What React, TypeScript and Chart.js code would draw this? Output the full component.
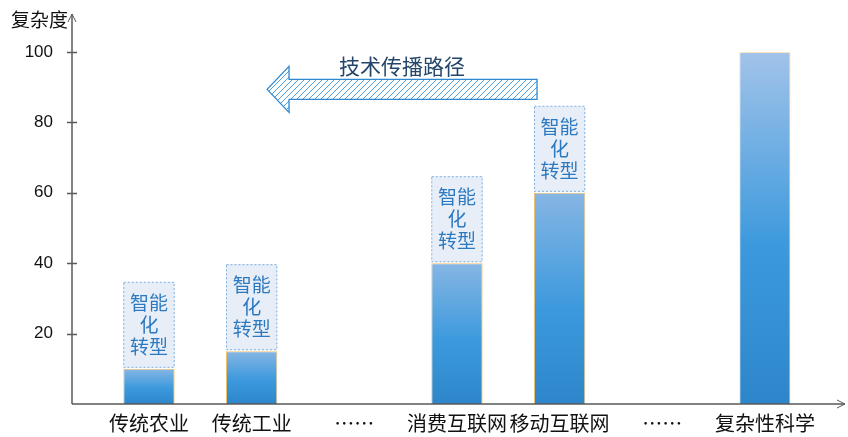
import React, { useEffect, useRef } from 'react';
import { Chart, registerables } from 'chart.js';

Chart.register(...registerables);

const categories = ['传统农业', '传统工业', '……', '消费互联网', '移动互联网', '……', '复杂性科学'];
const complexity: (number | null)[] = [10, 15, null, 40, 60, null, 100];
const hasNote = [true, true, false, true, true, false, false];
const noteLines = ['智能', '化', '转型'];
const yTicks = [20, 40, 60, 80, 100];
const arrowLabel = '技术传播路径';
const yTitle = '复杂度';

const FONT = "'Liberation Sans', 'Noto Sans CJK SC', sans-serif";
const CJK = "'Noto Sans CJK SC', sans-serif";
const AXIS = '#595959';

const makeHatch = (ctx: CanvasRenderingContext2D) => {
  const c = document.createElement('canvas');
  c.width = 6;
  c.height = 6;
  const g = c.getContext('2d')!;
  g.fillStyle = '#ffffff';
  g.fillRect(0, 0, 6, 6);
  g.strokeStyle = '#3f94da';
  g.lineWidth = 0.9;
  g.beginPath();
  g.moveTo(-1, 7); g.lineTo(7, -1);
  g.moveTo(-1, 1); g.lineTo(1, -1);
  g.moveTo(5, 7); g.lineTo(7, 5);
  g.stroke();
  return ctx.createPattern(c, 'repeat')!;
};

const decorPlugin = {
  id: 'decor',
  afterDatasetsDraw(chart: any) {
    const { ctx, scales } = chart;
    const xs = scales.x;
    const ys = scales.y;
    const meta = chart.getDatasetMeta(0);
    ctx.save();

    // notes above bars
    hasNote.forEach((flag, i) => {
      if (!flag) return;
      const bar = meta.data[i];
      if (!bar) return;
      const w = bar.width;
      const left = bar.x - w / 2;
      const bottom = bar.y - 1;
      const h = 86;
      ctx.fillStyle = '#e7eef8';
      ctx.fillRect(left, bottom - h, w, h);
      ctx.setLineDash([2, 2]);
      ctx.strokeStyle = '#7fb0e0';
      ctx.lineWidth = 1;
      ctx.strokeRect(left + 0.5, bottom - h + 0.5, w - 1, h - 1);
      ctx.setLineDash([]);
      ctx.fillStyle = '#2d79c0';
      ctx.font = `19px ${CJK}`;
      ctx.textAlign = 'center';
      ctx.textBaseline = 'middle';
      noteLines.forEach((t, k) => {
        ctx.fillText(t, bar.x, bottom - h + 21 + k * 22);
      });
    });

    // hatched arrow
    const tip = xs.getPixelForValue(1.15);
    const tail = xs.getPixelForValue(3.78);
    const cy = ys.getPixelForValue(89.4);
    const headBase = tip + 22;
    ctx.beginPath();
    ctx.moveTo(tip, cy);
    ctx.lineTo(headBase, cy - 23);
    ctx.lineTo(headBase, cy - 10);
    ctx.lineTo(tail, cy - 10);
    ctx.lineTo(tail, cy + 10);
    ctx.lineTo(headBase, cy + 10);
    ctx.lineTo(headBase, cy + 23);
    ctx.closePath();
    ctx.fillStyle = makeHatch(ctx);
    ctx.fill();
    ctx.strokeStyle = '#2f88d2';
    ctx.lineWidth = 1.3;
    ctx.stroke();
    ctx.fillStyle = '#24466a';
    ctx.font = `21px ${CJK}`;
    ctx.textAlign = 'center';
    ctx.textBaseline = 'middle';
    ctx.fillText(arrowLabel, (tip + tail) / 2, cy - 23);

    // axes
    const x0 = xs.left;
    const y0 = ys.bottom;
    const top = ys.top;
    const right = xs.right;
    ctx.strokeStyle = AXIS;
    ctx.lineWidth = 1.5;
    ctx.beginPath();
    ctx.moveTo(x0, y0);
    ctx.lineTo(right, y0);
    ctx.moveTo(x0, y0);
    ctx.lineTo(x0, top);
    ctx.stroke();
    ctx.lineWidth = 1;
    ctx.beginPath();
    ctx.moveTo(right - 8, y0 - 4);
    ctx.lineTo(right, y0);
    ctx.lineTo(right - 8, y0 + 4);
    ctx.moveTo(x0 - 4, top + 8);
    ctx.lineTo(x0, top);
    ctx.lineTo(x0 + 4, top + 8);
    ctx.stroke();
    ctx.lineWidth = 1.3;
    ctx.beginPath();
    yTicks.forEach((v) => {
      const py = Math.round(ys.getPixelForValue(v)) + 0.5;
      ctx.moveTo(x0 - 5, py);
      ctx.lineTo(x0 + 5, py);
    });
    ctx.stroke();

    ctx.fillStyle = '#111111';
    ctx.font = `19px ${CJK}`;
    ctx.textAlign = 'right';
    ctx.textBaseline = 'middle';
    ctx.fillText(yTitle, x0 - 4, top + 6);
    ctx.restore();
  },
};

const App: React.FC = () => {
  const canvasRef = useRef<HTMLCanvasElement>(null);
  const chartRef = useRef<Chart | null>(null);

  useEffect(() => {
    document.body.style.margin = '0';
    document.documentElement.lang = 'zh-CN';
    if (!canvasRef.current) return;
    if (chartRef.current) chartRef.current.destroy();

    const data = complexity.map((v, i) => ({ x: i, y: v }));

    chartRef.current = new Chart(canvasRef.current, {
      type: 'bar',
      data: {
        datasets: [
          {
            label: yTitle,
            data: data as any,
            backgroundColor: (c: any) => {
              const chart = c.chart;
              const v = c.raw?.y;
              if (!chart.chartArea || v == null) return '#3a96dc';
              const ys = chart.scales.y;
              const t = ys.getPixelForValue(v);
              const b = ys.getPixelForValue(0);
              const g = chart.ctx.createLinearGradient(0, t, 0, b);
              g.addColorStop(0, v > 80 ? '#a2c3e9' : '#86b6e4');
              g.addColorStop(0.55, '#3c99dd');
              g.addColorStop(1, '#2e86ca');
              return g;
            },
            borderColor: complexity.map((v) => (v != null && v > 80 ? '#fbe4c4' : '#f0c068')),
            borderWidth: 1,
            borderSkipped: 'bottom',
            barPercentage: 0.5,
            categoryPercentage: 1,
          },
        ],
      },
      options: {
        animation: false,
        responsive: true,
        maintainAspectRatio: false,
        layout: { padding: { top: 14, right: 3, left: 0, bottom: 0 } },
        plugins: {
          legend: { display: false },
          tooltip: { enabled: false },
        },
        scales: {
          x: {
            type: 'linear',
            offset: false,
            min: -0.75,
            max: 6.78,
            grid: { display: false, drawTicks: false, offset: false },
            border: { display: false },
            afterBuildTicks: (s: any) => {
              s.ticks = categories.map((_, i) => ({ value: i }));
            },
            afterFit: (s: any) => {
              s.height = 33;
              s.paddingLeft = 0;
              s.paddingRight = 0;
            },
            ticks: {
              autoSkip: false,
              maxRotation: 0,
              padding: 7,
              color: '#111111',
              font: { family: CJK, size: 20 },
              callback: (v: any) => categories[v] ?? '',
            },
          },
          y: {
            type: 'linear',
            min: 0,
            max: 110.8,
            grid: { display: false, drawTicks: false },
            border: { display: false },
            afterBuildTicks: (s: any) => {
              s.ticks = yTicks.map((v) => ({ value: v }));
            },
            afterFit: (s: any) => {
              s.width = 72;
              s.paddingTop = 0;
              s.paddingBottom = 0;
            },
            ticks: {
              padding: 19,
              color: '#111111',
              font: { family: FONT, size: 17 },
            },
          },
        },
      },
      plugins: [decorPlugin],
    });

    return () => {
      if (chartRef.current) {
        chartRef.current.destroy();
        chartRef.current = null;
      }
    };
  }, []);

  return (
    <div lang="zh-CN" style={{ position: 'relative', width: 848, height: 437 }}>
      <canvas lang="zh-CN" ref={canvasRef} aria-label="复杂度柱状图"></canvas>
    </div>
  );
};

export default App;
